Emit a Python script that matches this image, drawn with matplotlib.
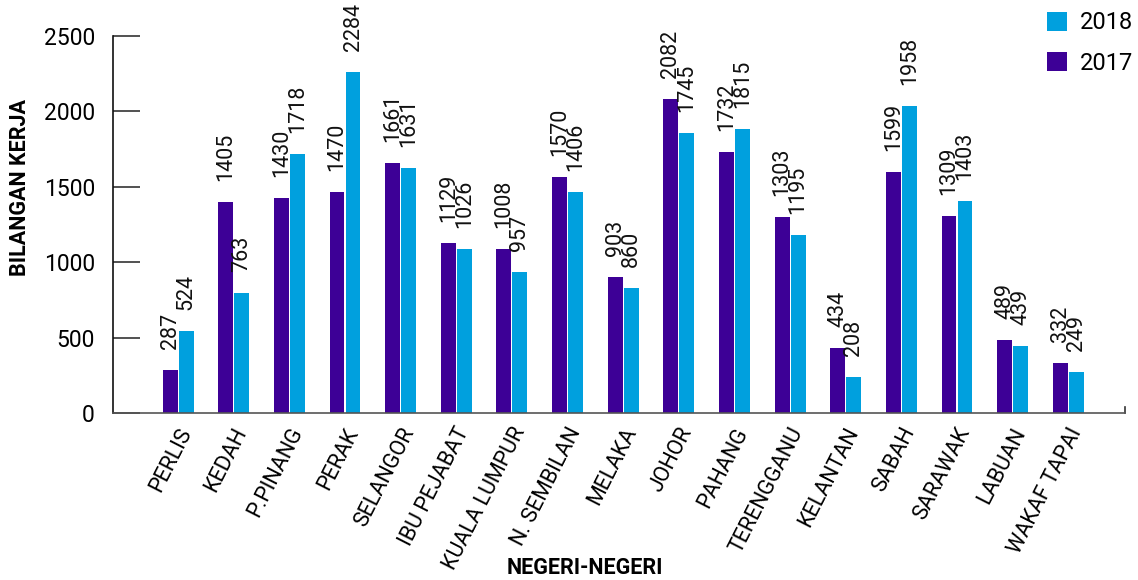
import numpy as np
import matplotlib.pyplot as plt
from matplotlib.transforms import ScaledTranslation

plt.rcParams['font.family'] = ['Roboto', 'DejaVu Sans']

DPI = 100

negeri = ['PERLIS', 'KEDAH', 'P.PINANG', 'PERAK', 'SELANGOR', 'IBU PEJABAT',
          'KUALA LUMPUR', 'N. SEMBILAN', 'MELAKA', 'JOHOR', 'PAHANG',
          'TERENGGANU', 'KELANTAN', 'SABAH', 'SARAWAK', 'LABUAN', 'WAKAF TAPAI']

# bar heights as drawn in the picture
bar_2017 = [285, 1399, 1426, 1466, 1660, 1129, 1089, 1566, 903, 2082, 1731,
            1300, 433, 1599, 1306, 486, 332]
bar_2018 = [544, 796, 1717, 2261, 1627, 1089, 936, 1466, 830, 1857, 1884,
            1181, 241, 2036, 1405, 446, 273]

# value labels as printed on the chart
label_2017 = ['287', '1405', '1430', '1470', '1661', '1129', '1008', '1570', '903',
              '2082', '1732', '1303', '434', '1599', '1309', '489', '332']
label_2018 = ['524', '763', '1718', '2284', '1631', '1026', '957', '1406', '860',
              '1745', '1815', '1195', '208', '1958', '1403', '439', '249']

c17 = '#3d0096'
c18 = '#00a0de'

fig = plt.figure(figsize=(1138/DPI, 580/DPI), dpi=DPI)
ax = fig.add_axes([113/1138, 1-413/580, (1125-113)/1138, (413-36)/580])

x = np.arange(len(negeri))
w = 0.288
b17 = ax.bar(x - w/2, bar_2017, width=w - 0.02, color=c17, label='2017')
b18 = ax.bar(x + w/2, bar_2018, width=w - 0.02, color=c18, label='2018')

for bars, labels in ((b17, label_2017), (b18, label_2018)):
    for rect, lab in zip(bars, labels):
        ax.annotate(lab, (rect.get_x() + rect.get_width()/2, rect.get_height()),
                    xytext=(0, 15), textcoords='offset points', rotation=90,
                    ha='center', va='bottom', fontsize=15.5, color='#111111',
                    annotation_clip=False)

ax.set_xlim(-1.17, 17.02)
ax.set_ylim(0, 2500)
ax.set_yticks([0, 500, 1000, 1500, 2000, 2500])
ax.tick_params(axis='y', direction='in', length=19.5, width=1.2, color='#333333',
               pad=13, labelsize=16.5)
ax.set_xticks(x)
ax.set_xticklabels(negeri, rotation=63, ha='right', rotation_mode='anchor',
                   fontsize=15.5)
ax.tick_params(axis='x', length=0, pad=8)
offset = ScaledTranslation(-1/DPI, 0, fig.dpi_scale_trans)
for t in ax.get_xticklabels():
    t.set_transform(t.get_transform() + offset)

for s in ('top', 'right'):
    ax.spines[s].set_visible(False)
ax.spines['left'].set_color('#111111')
ax.spines['left'].set_linewidth(1.2)
ax.spines['bottom'].set_color('#555555')
ax.spines['bottom'].set_linewidth(1.2)
ax.plot([1, 1], [0, 0.015], transform=ax.transAxes, color='#333333', lw=1.2,
        clip_on=False)

fig.text(20/1138, 1-187/580, 'BILANGAN KERJA', rotation=90, ha='center',
         va='center', fontsize=15.5, fontweight='bold')
fig.text(585/1138, 1-568/580, 'NEGERI-NEGERI', ha='center', va='center',
         fontsize=15.5, fontweight='bold')

handles = [b18, b17]
ax.legend(handles, ['2018', '2017'], loc='upper right',
          bbox_to_anchor=(1.008, 1.005), bbox_transform=fig.transFigure,
          frameon=False, fontsize=17, handlelength=0.85, handleheight=0.85,
          handletextpad=0.55, labelspacing=0.75, borderaxespad=0.2)

plt.savefig('out.png', dpi=DPI)
